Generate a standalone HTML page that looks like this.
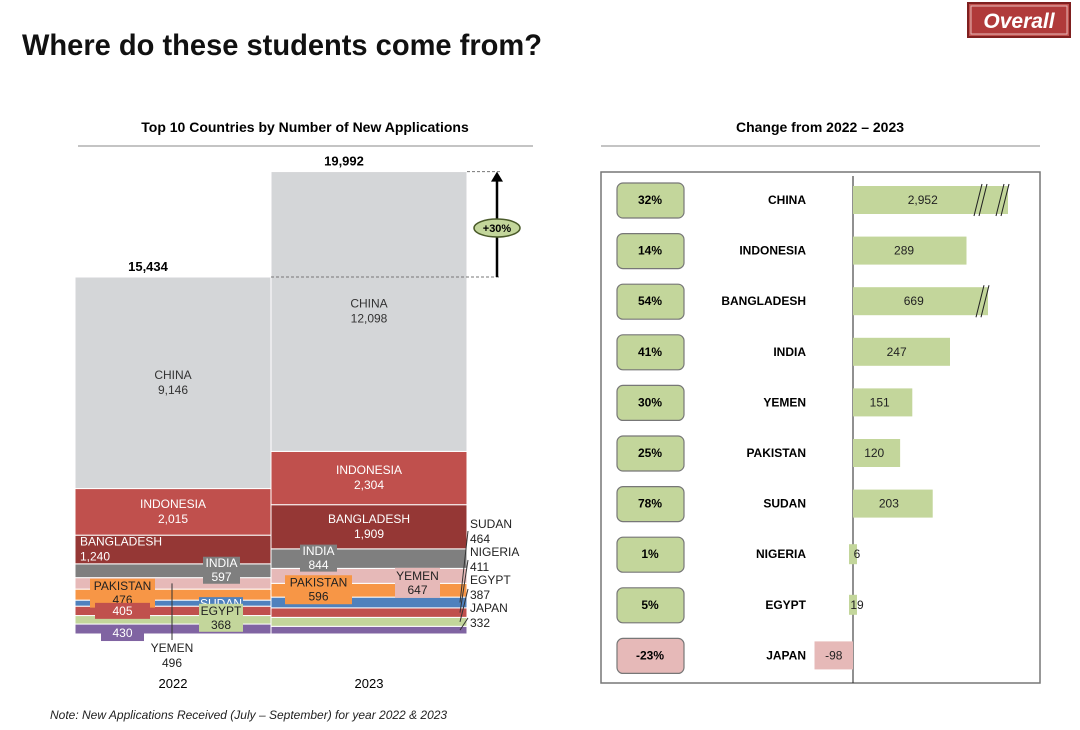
<!DOCTYPE html>
<html><head><meta charset="utf-8">
<style>
body{margin:0;background:#fff;font-family:"Liberation Sans",Arial,sans-serif;}
#wrap{position:relative;width:1080px;height:730px;overflow:hidden;}
svg text{font-family:"Liberation Sans",Arial,sans-serif;}
</style></head>
<body><div id="wrap">
<svg id="svg" width="1080" height="730">
<text x="22" y="55" font-size="30" font-weight="bold" fill="#111" textLength="520" lengthAdjust="spacingAndGlyphs">Where do these students come from?</text>
<g>
<rect x="968" y="3" width="102" height="34" fill="#c0504d" stroke="#7f1f1f" stroke-width="2"/>
<rect x="971" y="6" width="96" height="28" fill="#b03a3a" stroke="#e6b9b8" stroke-width="1"/>
<text x="1019" y="28" font-size="21" font-weight="bold" font-style="italic" fill="#fff" text-anchor="middle">Overall</text>
</g>
<text x="305" y="132" font-size="14" font-weight="bold" text-anchor="middle">Top 10 Countries by Number of New Applications</text>
<line x1="78" y1="146" x2="533" y2="146" stroke="#888"/>
<text x="820" y="132" font-size="14" font-weight="bold" text-anchor="middle">Change from 2022 – 2023</text>
<line x1="601" y1="146" x2="1040" y2="146" stroke="#888"/>
<rect x="601" y="172" width="439" height="511" fill="none" stroke="#777" stroke-width="1.5"/>
<text x="50" y="719" font-size="12" font-style="italic" fill="#222">Note: New Applications Received (July – September) for year 2022 &amp; 2023</text>
<g id="left"></g><g id="right"></g>
</svg>
<script>
const countries=["JAPAN","EGYPT","NIGERIA","SUDAN","PAKISTAN","YEMEN","INDIA","BANGLADESH","INDONESIA","CHINA"];
const values2022=[430,368,405,261,476,496,597,1240,2015,9146];
const values2023=[332,387,411,464,596,647,844,1909,2304,12098];
const years=["2022","2023"];
const changeCountries=["CHINA","INDONESIA","BANGLADESH","INDIA","YEMEN","PAKISTAN","SUDAN","NIGERIA","EGYPT","JAPAN"];
const changeValues=[2952,289,669,247,151,120,203,6,19,-98];
const changePct=["32%","14%","54%","41%","30%","25%","78%","1%","5%","-23%"];

const NS="http://www.w3.org/2000/svg";
function mk(tag,attrs,parent,txt){const e=document.createElementNS(NS,tag);for(const k in attrs)e.setAttribute(k,attrs[k]);if(txt!==undefined)e.textContent=txt;parent.appendChild(e);return e;}
const fmt=v=>v.toLocaleString("en-US");
const colors=["#8064a2","#c3d69b","#c0504d","#4f81bd","#f79646","#e6b9b8","#7f7f7f","#953735","#c0504d","#d4d6d8"];
const L=document.getElementById("left");
const base=634, totalMax=values2022.reduce((a,b)=>a+b,0);
const k=357/totalMax; // px per application
const yS=v=>base-v*k;
const barX=[75,271], barW=196;
const series=[values2022,values2023];
const segs=[[],[]];
series.forEach((vals,si)=>{
  let cum=0;
  vals.forEach((v,i)=>{
    const y0=yS(cum), y1=yS(cum+v);
    const r=mk("rect",{x:barX[si],y:y1,width:barW,height:y0-y1,fill:colors[i],stroke:"#fff","stroke-width":1},L);
    
    
    segs[si].push({y0,y1,mid:(y0+y1)/2});
    cum+=v;
  });
  const tot=mk("text",{x:barX[si]+barW/2-25,y:yS(cum)-6,"font-size":13,"font-weight":"bold","text-anchor":"middle"},L,fmt(cum));
  
  
  const yl=mk("text",{x:barX[si]+barW/2,y:688,"font-size":13,"text-anchor":"middle"},L,years[si]);
  
  
});
// big labels
function twoLine(x,y,name,val,fill,anchor,dn){
  const t=mk("text",{x:x,y:y,"font-size":12,fill:fill,"text-anchor":anchor||"middle"},L);
  
  
  mk("tspan",{x:x,dy:0},t,name);mk("tspan",{x:x,dy:15},t,val);
}
for(let si=0;si<2;si++){
  const vals=series[si], s=segs[si], cx=barX[si]+barW/2;
  twoLine(cx,s[9].mid-4,"CHINA",fmt(vals[9]),"#333","middle","label-china-"+years[si]);
  twoLine(cx,s[8].mid-4,"INDONESIA",fmt(vals[8]),"#fff","middle","label-indonesia-"+years[si]);
}
twoLine(80,segs[0][7].mid-4,"BANGLADESH",fmt(values2022[7]),"#fff","start","label-bangladesh-2022");
twoLine(barX[1]+barW/2,segs[1][7].mid-4,"BANGLADESH",fmt(values2023[7]),"#fff","middle","label-bangladesh-2023");
// boxed labels
function boxLab(x,y,w,h,fill,lines,tcol,dn){
  const g=mk("g",{},L);
  
  
  mk("rect",{x:x,y:y,width:w,height:h,fill:fill},g);
  const n=lines.length;
  lines.forEach((l,j)=>mk("text",{x:x+w/2,y:y+h/2+4+(j-(n-1)/2)*14,"font-size":12,fill:tcol,"text-anchor":"middle"},g,l));
}
const s0=segs[0], s1=segs[1];
boxLab(203,s0[6].mid-14,37,27,"#7f7f7f",["INDIA",fmt(values2022[6])],"#fff","label-india-2022");
boxLab(199,s0[3].mid-6,44,13,"#4f81bd",["SUDAN"],"#fff","label-sudan-2022");
boxLab(199,s0[1].mid-16,44,28,"#c3d69b",["EGYPT",fmt(values2022[1])],"#222","label-egypt-2022");
boxLab(90,s0[4].mid-16,65,29,"#f79646",["PAKISTAN",fmt(values2022[4])],"#222","label-pakistan-2022");
boxLab(95,s0[2].mid-8,55,16,"#c0504d",[fmt(values2022[2])],"#fff","label-nigeria-2022");
boxLab(101,s0[0].mid-4,43,16,"#8064a2",[fmt(values2022[0])],"#fff","label-japan-2022");
mk("line",{x1:172,y1:s0[5].mid,x2:172,y2:640,stroke:"#333","stroke-width":1},L);
twoLine(172,652,"YEMEN",fmt(values2022[5]),"#222","middle","label-yemen-2022");
boxLab(300,s1[6].mid-14,37,27,"#7f7f7f",["INDIA",fmt(values2023[6])],"#fff","label-india-2023");
boxLab(285,s1[4].mid-15,67,29,"#f79646",["PAKISTAN",fmt(values2023[4])],"#222","label-pakistan-2023");
boxLab(395,s1[5].mid-8,45,30,"#e6b9b8",["YEMEN",fmt(values2023[5])],"#222","label-yemen-2023");
[3,2,1,0].forEach((i,j)=>{
  const ty=528+j*28;
  twoLine(470,ty,countries[i],fmt(values2023[i]),"#222","start","label-"+countries[i].toLowerCase()+"-2023");
  mk("line",{x1:468,y1:ty+3+j,x2:460,y2:s1[i].mid,stroke:"#333","stroke-width":1},L);
});
// growth arrow
const top0=yS(totalMax), top1=yS(values2023.reduce((a,b)=>a+b,0));
mk("line",{x1:271,y1:top0,x2:500,y2:top0,stroke:"#777","stroke-dasharray":"3,2"},L);
mk("line",{x1:467,y1:top1,x2:500,y2:top1,stroke:"#777","stroke-dasharray":"3,2"},L);
const ar=mk("line",{x1:497,y1:top0,x2:497,y2:top1+8,stroke:"#000","stroke-width":2.5},L);


mk("polygon",{points:`491,${top1+10} 503,${top1+10} 497,${top1}`,fill:"#000"},L);
const eg=mk("g",{},L);


mk("ellipse",{cx:497,cy:228,rx:23,ry:9,fill:"#c3d69b",stroke:"#4a5a2a","stroke-width":1.5},eg);
mk("text",{x:497,y:232,"font-size":11,"font-weight":"bold","text-anchor":"middle"},eg,"+30%");

// right panel
const R=document.getElementById("right");
const axisX=853, sc=97/247, rowY=i=>200+i*50.6;
const xS=v=>axisX+v*sc;
mk("line",{x1:axisX,y1:176,x2:axisX,y2:683,stroke:"#222","stroke-width":1},R);
changeCountries.forEach((c,i)=>{
  const y=rowY(i), v=changeValues[i], neg=v<0;
  const broken=v>500; // axis break for oversized bars
  let x2=broken?(v>1000?1008:988):xS(v);
  const bh=(Math.abs(v)<30)?20:28;
  const x=Math.min(axisX,x2), w=Math.max(Math.abs(x2-axisX),8);
  const b=mk("rect",{x:neg?x:(Math.abs(v)<30?axisX-4:axisX),y:y-bh/2,width:w,height:bh,fill:neg?"#e6b9b8":"#c3d69b"},R);
  
  
  const tx=neg?(axisX+x2)/2:(Math.abs(v)<30?axisX+4:axisX+(x2-axisX)*0.45);
  mk("text",{x:tx,y:y+4,"font-size":12,fill:"#222","text-anchor":"middle"},R,fmt(v));
  if(broken){
    const marks=v>1000?[x2-30,x2-8]:[x2-8];
    marks.forEach(m=>{mk("line",{x1:m-4,y1:y+16,x2:m+4,y2:y-16,stroke:"#222","stroke-width":1},R);mk("line",{x1:m+1,y1:y+16,x2:m+9,y2:y-16,stroke:"#222","stroke-width":1},R);});
  }
  const n=mk("text",{x:806,y:y+4,"font-size":12,"font-weight":"bold","text-anchor":"end"},R,c);
  
  
  const pg=mk("g",{},R);
  
  
  mk("rect",{x:617,y:y-17,width:67,height:35,rx:6,fill:neg?"#e6b9b8":"#c3d69b",stroke:"#777","stroke-width":1.2},pg);
  mk("text",{x:650,y:y+4,"font-size":12,"font-weight":"bold","text-anchor":"middle"},pg,changePct[i]);
});
</script>
</div></body></html>
